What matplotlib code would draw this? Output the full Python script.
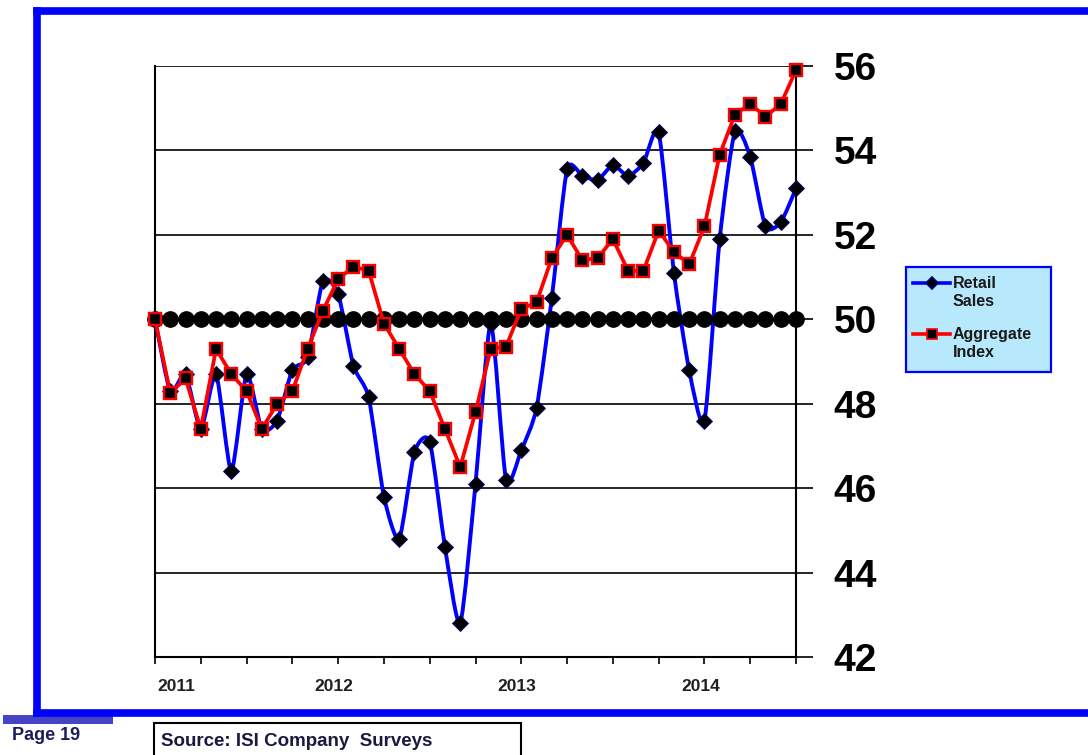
import matplotlib
matplotlib.use("Agg")
import matplotlib.pyplot as plt
import numpy as np
from matplotlib.lines import Line2D
from matplotlib.patches import PathPatch, Rectangle
from matplotlib.path import Path

plt.rcParams["font.family"] = ["Liberation Sans", "DejaVu Sans"]

# ------------------------------
# data (monthly, Jan 2011 .. Jul 2014)
# ------------------------------
n_months = 43
year_labels = ["2011", "2012", "2013", "2014"]

retail_sales = [
    50.0, 48.3, 48.7, 47.4, 48.7, 46.4, 48.7, 47.4, 47.6, 48.8, 49.1, 50.9,
    50.6, 48.9, 48.15, 45.8, 44.8, 46.85, 47.1, 44.6, 42.8, 46.1, 49.9, 46.2,
    46.9, 47.9, 50.5, 53.55, 53.4, 53.3, 53.65, 53.4, 53.7, 54.43, 51.1, 48.8,
    47.6, 51.9, 54.45, 53.85, 52.2, 52.3, 53.1,
]
aggregate_index = [
    50.0, 48.25, 48.6, 47.4, 49.3, 48.7, 48.3, 47.4, 48.0, 48.3, 49.3, 50.2,
    50.95, 51.25, 51.15, 49.9, 49.3, 48.7, 48.3, 47.4, 46.5, 47.8, 49.3, 49.35,
    50.25, 50.4, 51.45, 52.0, 51.4, 51.45, 51.9, 51.15, 51.15, 52.1, 51.6, 51.3,
    52.2, 53.9, 54.85, 55.1, 54.8, 55.1, 55.9,
]
neutral_level = 50
y_ticks = [42, 44, 46, 48, 50, 52, 54, 56]

W, H = 1088, 755
BLUE = "#0000ff"
RED = "#ff0000"


def fx(px):
    return px / W


def fy(py):
    return 1 - py / H


def smooth_path(x, y, k=9.0):
    # cardinal-spline smoothing, similar to a "smoothed line" in a spreadsheet
    pts = np.column_stack([np.asarray(x, float), np.asarray(y, float)])
    verts = [pts[0]]
    codes = [Path.MOVETO]
    n = len(pts)
    for i in range(n - 1):
        p0 = pts[max(i - 1, 0)]
        p1 = pts[i]
        p2 = pts[i + 1]
        p3 = pts[min(i + 2, n - 1)]
        verts += [p1 + (p2 - p0) / k, p2 - (p3 - p1) / k, p2]
        codes += [Path.CURVE4] * 3
    return Path(verts, codes)


fig = plt.figure(figsize=(W / 100, H / 100), dpi=100)
ax = fig.add_axes([fx(155), fy(657), fx(796 - 155), (657 - 66) / H])

months = np.arange(n_months)

# retail sales: smoothed blue line with black diamonds
ax.add_patch(
    PathPatch(smooth_path(months, retail_sales), facecolor="none",
              edgecolor=BLUE, linewidth=2.8, zorder=3, clip_on=False)
)
ax.plot(months, retail_sales, linestyle="none", marker="D", markersize=8.3,
        markerfacecolor="black", markeredgecolor="#00007a", markeredgewidth=0.6,
        zorder=4, clip_on=False)

# the 50 line drawn as a row of black dots
ax.plot(months, [neutral_level] * n_months, color="black", linewidth=2,
        marker="o", markersize=11, zorder=5, clip_on=False)

# aggregate index: red line with black squares
ax.plot(months, aggregate_index, color=RED, linewidth=2.7, marker="s",
        markersize=9.3, markerfacecolor="black", markeredgecolor=RED,
        markeredgewidth=1.7, zorder=6, clip_on=False)

ax.set_xlim(0, n_months - 1)
ax.set_ylim(42, 56)

# y axis on the right
ax.yaxis.tick_right()
ax.set_yticks(y_ticks)
ax.set_yticklabels([str(t) for t in y_ticks], fontsize=28, fontweight="bold")
ax.tick_params(axis="y", direction="out", length=12, width=1.2, pad=15,
               colors="black")
ax.yaxis.grid(True, color="black", linewidth=1.2)
ax.set_axisbelow(True)

# quarterly ticks on x
ax.set_xticks(np.arange(0, n_months, 3))
ax.set_xticklabels([])
ax.tick_params(axis="x", direction="out", length=5, width=1.2)

for s in ["left", "right", "bottom"]:
    ax.spines[s].set_linewidth(1.5)
ax.spines["top"].set_visible(False)

# year labels under each January
for k, lab in enumerate(year_labels):
    if k == 0:
        dx, ha = 2, "left"
    else:
        dx, ha = -3, "center"
    ax.annotate(lab, (12 * k, 0), xycoords=("data", "axes fraction"),
                xytext=(dx, -21), textcoords="offset points", ha=ha,
                va="center", fontsize=12.5, fontweight="bold", color="#202020")

# legend, built by hand so the handle sits on the first text line
fig.add_artist(Rectangle((fx(906), fy(372)), fx(145), 105 / H,
                         transform=fig.transFigure, facecolor="#b8e8fb",
                         edgecolor=BLUE, linewidth=1.6))
legend_rows = [
    (283, "Retail\nSales", BLUE, "D", 6, "#00007a"),
    (334, "Aggregate\nIndex", RED, "s", 7, RED),
]
for ly, lab, col, mk, ms, mec in legend_rows:
    fig.add_artist(Line2D([fx(913), fx(950)], [fy(ly), fy(ly)],
                          transform=fig.transFigure, color=col, linewidth=2.6))
    fig.add_artist(Line2D([fx(931.5)], [fy(ly)], transform=fig.transFigure,
                          linestyle="none", marker=mk, markersize=ms,
                          markerfacecolor="black", markeredgecolor=mec,
                          markeredgewidth=1.2))
    fig.text(fx(953), fy(ly - 7), lab, fontsize=11.5, fontweight="bold",
             color="#1a1a1a", ha="left", va="top", linespacing=1.25)

# blue frame around the page
frame_kw = dict(color=BLUE, linewidth=5.5, transform=fig.transFigure,
                solid_capstyle="projecting")
fig.add_artist(Line2D([fx(36.5), 1.01], [fy(10.5), fy(10.5)], **frame_kw))
fig.add_artist(Line2D([fx(36.5), fx(36.5)], [fy(10.5), fy(713)], **frame_kw))
fig.add_artist(Line2D([fx(36.5), 1.01], [fy(713), fy(713)], **frame_kw))

# page footer
fig.add_artist(Rectangle((fx(3), fy(724)), fx(110), 9 / H,
                         transform=fig.transFigure, facecolor="#4444c4",
                         edgecolor="none"))
fig.text(fx(12), fy(736), "Page 19", fontsize=13, fontweight="bold",
         color="#1c1c5c", ha="left", va="center")

fig.add_artist(Rectangle((fx(154), fy(760)), fx(367), 37 / H,
                         transform=fig.transFigure, facecolor="white",
                         edgecolor="black", linewidth=1.5))
fig.text(fx(161), fy(741), "Source: ISI Company  Surveys", fontsize=13.5,
         fontweight="bold", color="#1a1a40", ha="left", va="center")

fig.savefig("out.png", dpi=100)
plt.close(fig)
